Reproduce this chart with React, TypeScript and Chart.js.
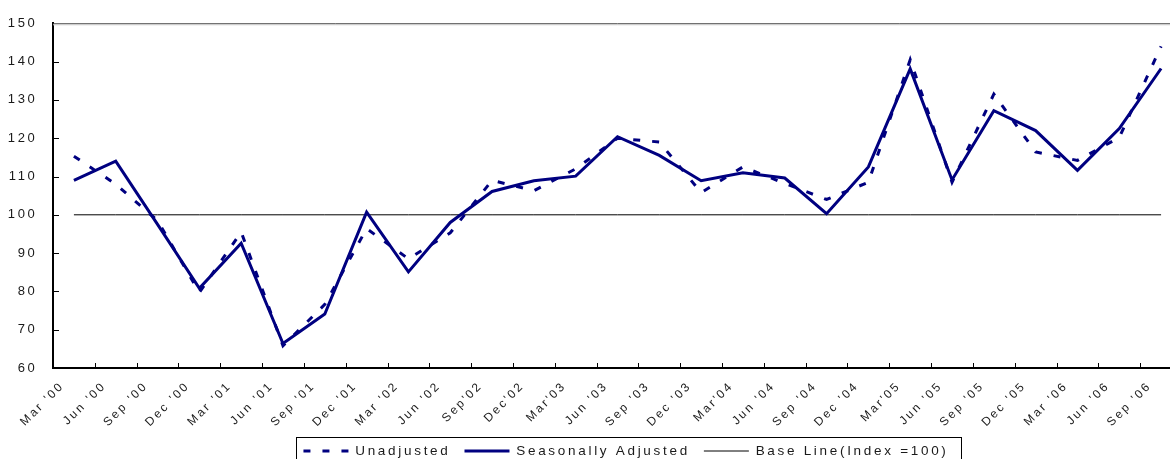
import React, { useEffect, useRef } from 'react';
import { Chart, registerables } from 'chart.js';

Chart.register(...registerables);

const categories = [
  "Mar '00", "Jun '00", "Sep '00", "Dec '00",
  "Mar '01", "Jun '01", "Sep '01", "Dec '01",
  "Mar '02", "Jun '02", "Sep'02", "Dec'02",
  "Mar'03", "Jun '03", "Sep '03", "Dec '03",
  "Mar'04", "Jun '04", "Sep '04", "Dec '04",
  "Mar'05", "Jun '05", "Sep '05", "Dec '05",
  "Mar '06", "Jun '06", "Sep '06",
];

const unadjusted = [
  115.3, 108.0, 98.5, 79.7,
  95.5, 65.8, 76.6, 96.4,
  88.5, 95.3, 109.0, 106.3,
  112.0, 120.0, 119.0, 105.8,
  112.5, 108.2, 104.0, 108.5,
  140.5, 108.5, 131.5, 116.4,
  114.2, 120.2, 144.0,
];

const seasonallyAdjusted = [
  109.0, 114.0, 97.5, 80.8,
  92.6, 66.4, 74.1, 100.7,
  85.1, 98.0, 106.1, 108.9,
  110.1, 120.4, 115.5, 108.9,
  111.0, 109.6, 100.3, 112.5,
  138.1, 109.1, 127.2, 122.0,
  111.6, 122.5, 138.2,
];

const baseLine = [
  100, 100, 100, 100, 100, 100, 100, 100, 100,
  100, 100, 100, 100, 100, 100, 100, 100, 100,
  100, 100, 100, 100, 100, 100, 100, 100, 100,
];

const seriesNames = ['Unadjusted', 'Seasonally Adjusted', 'Base Line(Index =100)'];

const Y_MIN = 60;
const Y_MAX = 150;
const Y_STEP = 10;

const FONT = "Arial, 'Liberation Sans', sans-serif";
const TEXT = '#1a1a1a';
const NAVY = '#000080';
const LETTER_SPACING = '2.7px';
const X_SPACING = 2.4;
const LEGEND_SHIFT = 35;
const X_LABEL_SIZE = 12;

const toPoints = (vals: number[]) => vals.map((v, i) => ({ x: i + 0.5, y: v }));

const stylingPlugin = {
  id: 'styling',
  beforeUpdate(chart: any) {
    chart.ctx.letterSpacing = LETTER_SPACING;
  },
  beforeDraw(chart: any) {
    chart.ctx.letterSpacing = LETTER_SPACING;
  },
  afterLayout(chart: any) {
    const lg = chart.legend;
    if (lg) {
      lg.left += LEGEND_SHIFT;
      lg.right += LEGEND_SHIFT;
    }
  },
  afterDraw(chart: any) {
    const { ctx, chartArea: a } = chart;
    const x = chart.scales.x;
    const y = chart.scales.y;
    ctx.save();
    // top frame line
    ctx.lineWidth = 1;
    ctx.strokeStyle = '#3a3a3a';
    ctx.beginPath();
    ctx.moveTo(a.left, a.top + 0.5);
    ctx.lineTo(a.right, a.top + 0.5);
    ctx.stroke();
    ctx.strokeStyle = '#d0d0d0';
    ctx.beginPath();
    ctx.moveTo(a.left, a.top + 1.5);
    ctx.lineTo(a.right, a.top + 1.5);
    ctx.stroke();
    // inward tick marks
    ctx.strokeStyle = '#000';
    ctx.lineWidth = 1;
    ctx.beginPath();
    x.ticks.forEach((t: any) => {
      const px = Math.round(x.getPixelForValue(t.value)) + 0.5;
      if (px <= a.left + 3) return;
      ctx.moveTo(px, a.bottom);
      ctx.lineTo(px, a.bottom - 5);
    });
    y.ticks.forEach((t: any) => {
      const py = Math.round(y.getPixelForValue(t.value)) + 0.5;
      if (py <= a.top + 3 || py >= a.bottom - 3) return;
      ctx.moveTo(a.left, py);
      ctx.lineTo(a.left + 6, py);
    });
    ctx.stroke();
    // rotated category labels, anchored at each category's tick
    ctx.fillStyle = TEXT;
    ctx.font = `${X_LABEL_SIZE}px ${FONT}`;
    ctx.letterSpacing = X_SPACING + 'px';
    ctx.textAlign = 'right';
    ctx.textBaseline = 'alphabetic';
    categories.forEach((label, i) => {
      const px = x.getPixelForValue(i);
      ctx.save();
      ctx.translate(px + 4, a.bottom + 14);
      ctx.rotate(-Math.PI / 4);
      ctx.fillText(label, X_SPACING, X_LABEL_SIZE * 0.716);
      ctx.restore();
    });
    // legend frame
    const lg = chart.legend;
    if (lg && lg.lineWidths) {
      const p = lg.options.labels.padding;
      const fs = lg.options.labels.font.size;
      const x0 = (lg.left + p + lg.right - lg.lineWidths[0]) / 2;
      const w = lg.lineWidths[0] - p;
      const cy = lg.top + p + fs / 2;
      ctx.strokeStyle = '#000';
      ctx.lineWidth = 1;
      ctx.strokeRect(Math.round(x0 - 7) + 0.5, Math.round(cy - 14) + 0.5, Math.round(w + 20), 29);
    }
    ctx.restore();
  },
};

export default function App() {
  const ref = useRef<HTMLCanvasElement>(null);

  useEffect(() => {
    document.body.style.margin = '0';
    const canvas = ref.current;
    if (!canvas) return;
    const chart = new Chart(canvas, {
      type: 'line',
      data: {
        datasets: [
          {
            label: seriesNames[0],
            data: toPoints(unadjusted),
            borderColor: NAVY,
            backgroundColor: NAVY,
            borderWidth: 3,
            borderDash: [7, 12],
            pointRadius: 0,
            tension: 0,
          },
          {
            label: seriesNames[1],
            data: toPoints(seasonallyAdjusted),
            borderColor: NAVY,
            backgroundColor: NAVY,
            borderWidth: 3,
            pointRadius: 0,
            tension: 0,
          },
          {
            label: seriesNames[2],
            data: toPoints(baseLine),
            borderColor: '#000',
            backgroundColor: '#000',
            borderWidth: 1,
            pointRadius: 0,
            tension: 0,
          },
        ],
      },
      options: {
        animation: false,
        responsive: false,
        devicePixelRatio: 1,
        layout: { padding: { top: 17, left: 0, right: 8, bottom: 3.75 } },
        plugins: {
          tooltip: { enabled: false },
          legend: {
            position: 'bottom',
            maxHeight: 36,
            labels: {
              usePointStyle: true,
              pointStyle: 'line',
              pointStyleWidth: 45,
              padding: 14,
              color: TEXT,
              font: { family: FONT, size: 13.5 },
              generateLabels: (c: any) => {
                const items = (Chart.defaults as any).plugins.legend.labels.generateLabels(c);
                items.forEach((it: any) => {
                  const ds = c.data.datasets[it.datasetIndex];
                  it.lineDash = ds.borderDash || [];
                  it.lineWidth = ds.borderWidth;
                  it.strokeStyle = ds.borderColor;
                  it.fillStyle = ds.borderColor;
                  it.pointStyle = 'line';
                });
                return items;
              },
            },
          },
        },
        scales: {
          x: {
            type: 'linear',
            min: 0,
            max: categories.length,
            afterFit: (s: any) => {
              s.height = 62.25;
              s.paddingLeft = 0;
              s.paddingRight = 0;
            },
            grid: { display: false, drawTicks: false },
            border: { display: true, color: '#000', width: 2 },
            ticks: {
              display: false,
              stepSize: 1,
              autoSkip: false,
            },
          },
          y: {
            min: Y_MIN,
            max: Y_MAX,
            afterFit: (s: any) => {
              s.width = 53;
            },
            grid: { display: false, drawTicks: false },
            border: { display: true, color: '#000', width: 2 },
            ticks: {
              stepSize: Y_STEP,
              padding: 15.5,
              color: TEXT,
              font: { family: FONT, size: 13 },
            },
          },
        },
      },
      plugins: [stylingPlugin],
    } as any);
    return () => chart.destroy();
  }, []);

  return (
    <div style={{ width: 1170, height: 459, overflow: 'hidden', background: '#fff' }}>
      <canvas ref={ref} width={1190} height={470} style={{ display: 'block', width: 1190, height: 470 }} />
    </div>
  );
}
